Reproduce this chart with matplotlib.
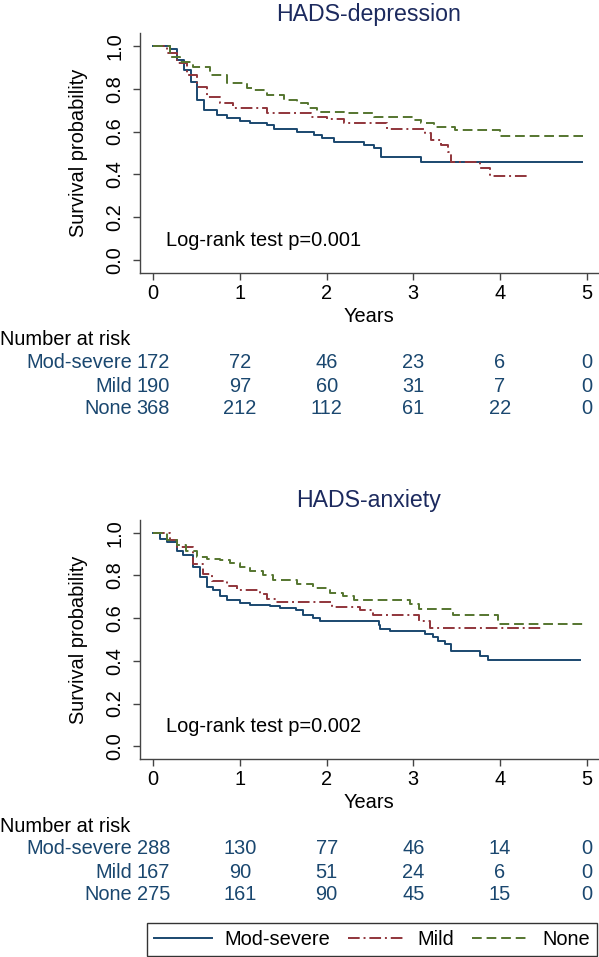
import matplotlib
matplotlib.use("Agg")
import matplotlib.pyplot as plt
from matplotlib.lines import Line2D
from matplotlib.transforms import blended_transform_factory

plt.rcParams['font.family'] = ['Liberation Sans', 'DejaVu Sans']

groups = ["Mod-severe", "Mild", "None"]
colors = ["#1a476f", "#90353b", "#55752f"]
styles = ["-", (0, (6, 2, 1, 2)), (0, (5, 2.5))]
risk_times = [0, 1, 2, 3, 4, 5]

# HADS-depression curves
dep_mod_t = [0, 0.19, 0.27, 0.35, 0.44, 0.50, 0.58, 0.73, 0.85, 1.00, 1.115, 1.316, 1.39,
             1.66, 1.855, 1.95, 2.09, 2.43, 2.55, 2.63, 3.09, 4.94]
dep_mod_s = [1.0, 0.985, 0.935, 0.888, 0.833, 0.748, 0.70, 0.678, 0.662, 0.651, 0.639, 0.631,
             0.612, 0.600, 0.584, 0.569, 0.553, 0.537, 0.522, 0.483, 0.457, 0.457]
dep_mild_t = [0, 0.154, 0.27, 0.385, 0.5, 0.616, 0.77, 0.923, 1.316, 1.82, 2.0, 2.2, 2.7,
              3.13, 3.2, 3.32, 3.4, 3.44, 3.77, 3.88, 4.31]
dep_mild_s = [1.0, 0.966, 0.919, 0.864, 0.807, 0.763, 0.732, 0.709, 0.686, 0.670, 0.659,
              0.639, 0.611, 0.592, 0.561, 0.537, 0.506, 0.459, 0.428, 0.393, 0.393]
dep_none_t = [0, 0.19, 0.31, 0.46, 0.654, 0.846, 1.077, 1.16, 1.316, 1.51, 1.66, 1.78, 1.89,
              2.2, 2.55, 3.01, 3.09, 3.24, 3.48, 4.0, 4.96]
dep_none_s = [1.0, 0.95, 0.927, 0.903, 0.864, 0.826, 0.802, 0.794, 0.771, 0.748, 0.732,
              0.709, 0.693, 0.686, 0.670, 0.654, 0.639, 0.623, 0.607, 0.579, 0.579]

# HADS-anxiety curves
anx_mod_t = [0, 0.077, 0.154, 0.27, 0.346, 0.46, 0.54, 0.616, 0.69, 0.77, 0.846, 1.0, 1.115,
             1.346, 1.46, 1.65, 1.73, 1.846, 1.92, 2.6, 2.62, 2.73, 3.13, 3.23, 3.29, 3.36,
             3.44, 3.77, 3.86, 4.92]
anx_mod_s = [1.0, 0.972, 0.956, 0.917, 0.894, 0.839, 0.792, 0.745, 0.73, 0.706, 0.686, 0.670,
             0.663, 0.656, 0.647, 0.636, 0.617, 0.602, 0.589, 0.566, 0.550, 0.539, 0.524,
             0.511, 0.492, 0.477, 0.445, 0.425, 0.406, 0.406]
anx_mild_t = [0, 0.19, 0.27, 0.46, 0.577, 0.673, 0.846, 0.962, 1.23, 1.31, 1.42, 2.06, 2.38,
              2.54, 3.06, 3.19, 4.5]
anx_mild_s = [1.0, 0.964, 0.933, 0.855, 0.808, 0.772, 0.749, 0.733, 0.714, 0.691, 0.675,
              0.652, 0.636, 0.616, 0.585, 0.553, 0.553]
anx_none_t = [0, 0.154, 0.27, 0.38, 0.5, 0.616, 0.77, 0.885, 1.0, 1.115, 1.27, 1.384, 1.654,
              1.846, 2.04, 2.19, 2.31, 2.96, 3.07, 3.46, 3.98, 4.97]
anx_none_s = [1.0, 0.964, 0.941, 0.917, 0.886, 0.878, 0.871, 0.858, 0.839, 0.820, 0.80,
              0.777, 0.761, 0.743, 0.719, 0.703, 0.686, 0.668, 0.641, 0.616, 0.574, 0.574]

# numbers at risk
dep_risk_mod = [172, 72, 46, 23, 6, 0]
dep_risk_mild = [190, 97, 60, 31, 7, 0]
dep_risk_none = [368, 212, 112, 61, 22, 0]
anx_risk_mod = [288, 130, 77, 46, 14, 0]
anx_risk_mild = [167, 90, 51, 24, 6, 0]
anx_risk_none = [275, 161, 90, 45, 15, 0]

W, H = 599, 957
fig = plt.figure(figsize=(W / 100, H / 100), dpi=100)
fs = 14.4
table_col = "#1a476f"


def panel(top_px, bottom_px, title, curves, risks, pval):
    ax = fig.add_axes([140 / W, 1 - bottom_px / H, 458 / W, (bottom_px - top_px) / H])
    for (t, s), c, ls in zip(curves, colors, styles):
        ax.step(t, s, where="post", color=c, ls=ls, lw=1.4)
    ax.set_xlim(-0.153, 5.13)
    ax.set_ylim(-0.06, 1.06)
    ax.set_xticks(risk_times)
    ax.set_yticks([0, 0.2, 0.4, 0.6, 0.8, 1.0])
    ax.set_yticklabels(["0.0", "0.2", "0.4", "0.6", "0.8", "1.0"], rotation=90, va="center")
    for side in ["top", "right"]:
        ax.spines[side].set_visible(False)
    for side in ["left", "bottom"]:
        ax.spines[side].set_color("#444444")
        ax.spines[side].set_linewidth(1.0)
    ax.tick_params(labelsize=fs, length=5, color="#444444", width=1.0)
    ax.tick_params(axis="y", pad=6)
    ax.tick_params(axis="x", pad=3)
    ax.set_xlabel("Years", fontsize=fs, labelpad=3)
    ax.set_ylabel("Survival probability", fontsize=fs, labelpad=13)
    ax.set_title(title, fontsize=16.7, color="#1c2a5e", pad=9)
    ax.text(0.15, 0.093, "Log-rank test p=" + pval, fontsize=fs, va="center")

    tr = blended_transform_factory(ax.transData, fig.transFigure)
    y0 = bottom_px + 67
    fig.text(0, 1 - y0 / H, "Number at risk", fontsize=fs, va="center")
    for i, (name, row) in enumerate(zip(groups, risks)):
        y = 1 - (y0 + 23 * (i + 1)) / H
        ax.text(-0.246, y, name, transform=tr, ha="right", va="center",
                fontsize=fs, color=table_col, clip_on=False)
        for tt, n in zip(risk_times, row):
            ax.text(tt, y, str(n), transform=tr, ha="center", va="center",
                    fontsize=fs, color=table_col, clip_on=False)
    return ax


panel(33, 273, "HADS-depression",
      [(dep_mod_t, dep_mod_s), (dep_mild_t, dep_mild_s), (dep_none_t, dep_none_s)],
      [dep_risk_mod, dep_risk_mild, dep_risk_none], "0.001")
panel(520, 759, "HADS-anxiety",
      [(anx_mod_t, anx_mod_s), (anx_mild_t, anx_mild_s), (anx_none_t, anx_none_s)],
      [anx_risk_mod, anx_risk_mild, anx_risk_none], "0.002")

handles = [Line2D([], [], color=c, ls=ls, lw=1.4) for c, ls in zip(colors, styles)]
leg = fig.legend(handles, groups, loc="lower left", bbox_to_anchor=(147 / W, 1 / H, 450 / W, 40 / H),
                 mode="expand", ncol=3, fontsize=fs, frameon=True, fancybox=False,
                 handlelength=2.9, handletextpad=0.6, columnspacing=0.5, borderpad=0.35,
                 borderaxespad=0)
leg.get_frame().set_edgecolor("black")
leg.get_frame().set_linewidth(1.0)

fig.savefig("out.png", dpi=100)
